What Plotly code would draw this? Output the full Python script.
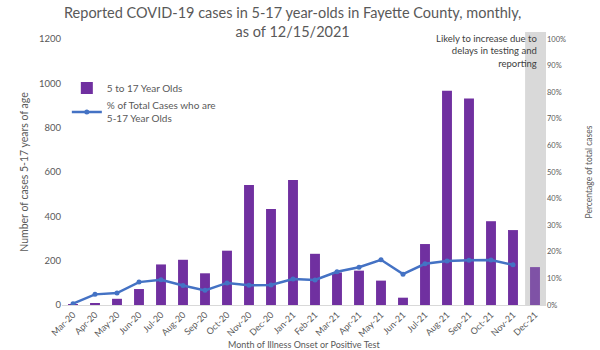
import plotly.graph_objects as go

months = ["Mar-20", "Apr-20", "May-20", "Jun-20", "Jul-20", "Aug-20", "Sep-20", "Oct-20",
          "Nov-20", "Dec-20", "Jan-21", "Feb-21", "Mar-21", "Apr-21", "May-21", "Jun-21",
          "Jul-21", "Aug-21", "Sep-21", "Oct-21", "Nov-21", "Dec-21"]
cases_5_17 = [4, 5, 28, 72, 183, 204, 143, 245, 541, 433, 564, 231, 147, 155, 110, 33,
              275, 966, 932, 378, 338, 171]
pct_5_17 = [0.5, 4.0, 4.5, 8.6, 9.5, 7.3, 5.5, 8.3, 7.4, 7.5, 9.8, 9.4, 12.5, 14.2, 17.0,
            11.6, 15.5, 16.5, 16.8, 16.9, 15.1]
left_ticks = [0, 200, 400, 600, 800, 1000, 1200]
right_ticks = [0, 10, 20, 30, 40, 50, 60, 70, 80, 90, 100]

FONT = "Lato"
GREY_TXT = "#595959"

bar_colors = ["#7030A0"] * (len(months) - 1) + ["#7F52A6"]

fig = go.Figure()
fig.add_trace(go.Bar(
    x=months, y=cases_5_17, name="5 to 17 Year Olds",
    marker=dict(color=bar_colors, line=dict(width=0)),
    yaxis="y",
))
fig.add_trace(go.Scatter(
    x=months[:len(pct_5_17)], y=pct_5_17, name="% of Total Cases who are<br>5-17 Year Olds",
    mode="lines+markers", line=dict(color="#4472C4", width=2.5),
    marker=dict(size=5, color="#4472C4"), yaxis="y2",
))

fig.add_shape(type="rect", xref="x", yref="paper", x0=20.55, x1=21.5, y0=0, y1=1.026,
              fillcolor="#D9D9D9", line=dict(width=0), layer="below")

fig.update_layout(
    width=600, height=350,
    margin=dict(l=62, r=54, t=39, b=45, autoexpand=False),
    paper_bgcolor="white", plot_bgcolor="white",
    bargap=0.55,
    font=dict(family=FONT, color=GREY_TXT),
    xaxis=dict(type="category", tickangle=-45, tickfont=dict(size=9, color=GREY_TXT),
               showline=True, linecolor="#D9D9D9", linewidth=1, ticks="",
               range=[-0.5, 21.5], showgrid=False, automargin=False),
    yaxis=dict(range=[0, 1200], tickvals=left_ticks, showgrid=False, zeroline=False,
               tickfont=dict(size=9.5, color=GREY_TXT), ticks="", ticklen=0, automargin=False,
               title=dict(text="Number of cases 5-17 years of age",
                          font=dict(size=10.5, color=GREY_TXT), standoff=8)),
    yaxis2=dict(range=[0, 100], tickvals=right_ticks, ticktext=[f"{v}%" for v in right_ticks],
                overlaying="y", side="right", showgrid=False, zeroline=False, automargin=False,
                tickfont=dict(size=7.5, color=GREY_TXT), ticks="",
                title=dict(text="Percentage of total cases", font=dict(size=8.5, color=GREY_TXT),
                           standoff=20)),
    legend=dict(x=0.01, y=0.87, xanchor="left", yanchor="top", bgcolor="rgba(0,0,0,0)",
                font=dict(size=10, color=GREY_TXT), tracegroupgap=8, itemwidth=30),
    showlegend=True,
)

fig.add_annotation(text="Reported COVID-19 cases in 5-17 year-olds in Fayette County, monthly,<br>as of 12/15/2021",
                   xref="paper", yref="paper", x=(292 - 62) / (546 - 62), y=(305 - 2) / 266,
                   xanchor="center", yanchor="top", align="center", showarrow=False,
                   font=dict(family=FONT, size=14.5, color=GREY_TXT))
fig.add_annotation(text="Likely to increase due to<br>delays in testing and<br>reporting",
                   xref="paper", yref="paper", x=(539 - 62) / (546 - 62), y=1.03,
                   xanchor="right", yanchor="top", align="right", showarrow=False,
                   font=dict(size=9.5, color="#404040", family=FONT))
fig.add_annotation(text="Month of Illness Onset or Positive Test",
                   xref="paper", yref="paper", x=0.5, y=(305 - 337) / 266,
                   xanchor="center", yanchor="top", showarrow=False,
                   font=dict(size=9, color=GREY_TXT, family=FONT))

fig.write_html("out.html")
